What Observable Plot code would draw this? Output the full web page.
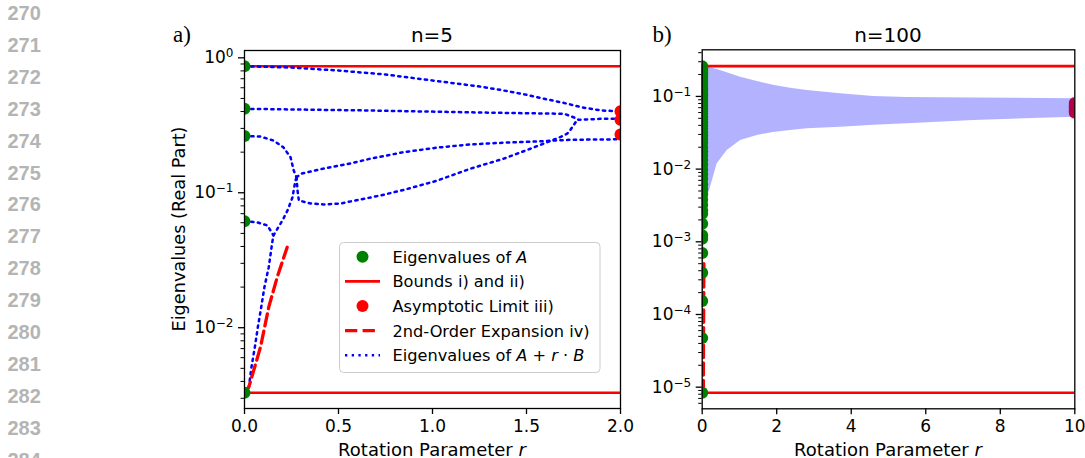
<!DOCTYPE html>
<html><head><meta charset="utf-8">
<script src="https://cdn.jsdelivr.net/npm/d3@7"></script>
<script src="https://cdn.jsdelivr.net/npm/@observablehq/plot@0.6"></script>
<style>
body{margin:0;background:#fff;}
#wrap{position:relative;width:1085px;height:458px;overflow:hidden;}
#wrap svg{overflow:visible;}
.pane{position:absolute;top:0;}
</style></head><body>
<div id="wrap">
  <svg id="lines" class="pane" style="left:0" width="60" height="458"></svg>
  <div id="left" class="pane" style="left:0"></div>
  <div id="right" class="pane" style="left:640px"></div>
</div>
<script>
// ---------- page line numbers ----------
const lineNumbers = [270,271,272,273,274,275,276,277,278,279,280,281,282,283,284];

// ---------- panel a) n = 5 ----------
const xTicksA = [0, 0.5, 1, 1.5, 2];
const xTickLabelsA = ["0.0", "0.5", "1.0", "1.5", "2.0"];
const yTicksA = [0.01, 0.1, 1];
const yTickLabelsA = ["10^−2", "10^−1", "10^0"];
const eigenA5 = [0.867, 0.419, 0.263, 0.0616, 0.0033];
const boundsA5 = [0.867, 0.0033];
const limitsA5 = [0.402, 0.347, 0.270];
const expansionA5 = [[0, 0.0033], [0.023, 0.00363], [0.085, 0.00718], [0.129, 0.0142], [0.174, 0.0237], [0.227, 0.0395]];
// real parts of eigenvalues of A + r·B (branches)
const branchTop = [[0, 0.867], [0.25, 0.847], [0.5, 0.805], [0.75, 0.752], [1.0, 0.679], [1.25, 0.613], [1.36, 0.579], [1.5, 0.532], [1.6, 0.495], [1.7, 0.463], [1.8, 0.428], [1.9, 0.407], [2.0, 0.402]];
const branchFlat = [[0, 0.419], [0.67, 0.407], [1.36, 0.391], [1.7, 0.385], [1.75, 0.363], [1.777, 0.347], [1.89, 0.353], [2.0, 0.353]];
const branchFromMid = [[0, 0.263], [0.085, 0.261], [0.154, 0.244], [0.207, 0.217], [0.245, 0.183], [0.262, 0.146], [0.277, 0.130]];
const branchUpper = [[0.277, 0.130], [0.298, 0.138], [0.42, 0.151], [0.564, 0.165], [0.67, 0.179], [0.847, 0.200], [1.025, 0.216], [1.202, 0.228], [1.379, 0.235], [1.557, 0.240], [1.734, 0.247], [2.0, 0.249]];
const branchLower = [[0.277, 0.130], [0.282, 0.104], [0.289, 0.0877], [0.351, 0.0833], [0.42, 0.0819], [0.511, 0.0833], [0.617, 0.0892], [0.723, 0.0955], [0.847, 0.105], [1.025, 0.123], [1.202, 0.151], [1.379, 0.179], [1.521, 0.212], [1.61, 0.237], [1.67, 0.255], [1.716, 0.274], [1.734, 0.293], [1.761, 0.333], [1.777, 0.347]];
const branchLow = [[0, 0.0033], [0.023, 0.00363], [0.037, 0.0051], [0.055, 0.00718], [0.071, 0.0101], [0.089, 0.0142], [0.106, 0.0200], [0.129, 0.0281], [0.147, 0.0423], [0.154, 0.0483]];
const branchSmall = [[0, 0.0616], [0.069, 0.0603], [0.122, 0.0573], [0.154, 0.0483]];
const branchPair = [[0.154, 0.0483], [0.202, 0.0624], [0.229, 0.074], [0.255, 0.0923], [0.271, 0.1233], [0.277, 0.130]];

// ---------- panel b) n = 100 ----------
const xTicksB = [0, 2, 4, 6, 8, 10];
const xTickLabelsB = ["0", "2", "4", "6", "8", "10"];
const yTicksB = [1e-5, 1e-4, 1e-3, 1e-2, 1e-1];
const yTickLabelsB = ["10^−5", "10^−4", "10^−3", "10^−2", "10^−1"];
const eigenA100 = [0.261, 0.245, 0.23, 0.215, 0.2, 0.187, 0.174, 0.162, 0.15, 0.139, 0.129, 0.12, 0.111, 0.103, 0.095, 0.088, 0.081, 0.075, 0.069, 0.063, 0.058, 0.053, 0.048, 0.044, 0.040, 0.036, 0.032, 0.029, 0.026, 0.023, 0.020, 0.0175, 0.0153, 0.0133, 0.0115, 0.0099, 0.0085, 0.0073, 0.0062, 0.0053, 0.0045, 0.0038, 0.0032, 0.0027, 0.00244, 0.00177, 0.00123, 0.0011, 0.0007, 0.000376, 0.000153, 0.0000473, 0.0000084];
const boundsB = [0.261, 0.00000837];
const limitsB = [0.081, 0.077, 0.073, 0.070, 0.067, 0.064, 0.062, 0.0597];
const bandR    = [0, 0.02, 0.05, 0.089, 0.134, 0.223, 0.403, 0.671, 1.03, 1.48, 1.91, 2.37, 2.82, 3.71, 4.6, 5.5, 7.29, 10];
const bandLow  = [0.0000084, 0.0001, 0.001, 0.0030, 0.0040, 0.00565, 0.01186, 0.0181, 0.0248, 0.0291, 0.032, 0.0341, 0.036, 0.0378, 0.040, 0.0421, 0.0468, 0.0519];
const bandHigh = [0.261, 0.260, 0.258, 0.256, 0.253, 0.248, 0.235, 0.212, 0.184, 0.160, 0.142, 0.130, 0.121, 0.109, 0.100, 0.097, 0.095, 0.093];
const expansionB = [[0.03, 0.0000084], [0.035, 0.00004], [0.04, 0.00015], [0.045, 0.0005]];

// ---------- styles ----------
const FONT = "DejaVu Sans";
const pt = {x: d => d[0], y: d => d[1]};
const blueDots = {...pt, stroke: "#0000ff", strokeWidth: 2.5, strokeDasharray: "2.3 4.4", clip: true};
const redDash = {...pt, stroke: "#ff0000", strokeWidth: 3.3, strokeDasharray: "12.3 5.3", clip: true};

function axes(xTicks, xLabels, yTicks, yLabels, yDomain) {
  const minor = d3.scaleLog().domain(yDomain).ticks().filter(v => Math.abs(Math.log10(v) - Math.round(Math.log10(v))) > 1e-6);
  return [
    Plot.axisX({ticks: xTicks, tickFormat: d => xLabels[xTicks.indexOf(d)], tickSize: 6, tickPadding: 5, strokeWidth: 1.3, fontSize: 17, label: null}),
    Plot.axisY({ticks: yTicks, tickFormat: d => yLabels[yTicks.indexOf(d)], tickSize: 6, tickPadding: 5, strokeWidth: 1.3, fontSize: 17, label: null}),
    Plot.axisY({ticks: minor, tickFormat: () => "", tickSize: 3.5, strokeWidth: 1, label: null})
  ];
}

const domA = [0.00252, 1.133];
const left = Plot.plot({
  width: 640, height: 458,
  marginLeft: 244, marginRight: 20, marginTop: 50, marginBottom: 50,
  style: {fontFamily: FONT, fontSize: "17px", color: "black", background: "transparent", overflow: "visible"},
  x: {domain: [0, 2], label: null},
  y: {type: "log", domain: domA, label: null},
  marks: [
    ...axes(xTicksA, xTickLabelsA, yTicksA, yTickLabelsA, domA),
    Plot.ruleY(boundsA5, {stroke: "#ff0000", strokeWidth: 2.6}),
    ...[branchTop, branchFlat, branchFromMid, branchUpper, branchLower, branchLow, branchSmall, branchPair].map(b => Plot.line(b, blueDots)),
    Plot.line(expansionA5, redDash),
    Plot.dot(eigenA5, {x: () => 0, y: d => d, r: 6, fill: "#008000", clip: true}),
    Plot.dot(limitsA5, {x: () => 2, y: d => d, r: 6, fill: "#ff0000", clip: true}),
    Plot.frame({stroke: "black", strokeWidth: 1.3})
  ]
});
document.getElementById("left").appendChild(left);

const domB = [0.00000504, 0.438];
const band = bandR.map((r, i) => ({r, lo: bandLow[i], hi: bandHigh[i]}));
const right = Plot.plot({
  width: 445, height: 458,
  marginLeft: 61.7, marginRight: 10.7, marginTop: 49.3, marginBottom: 49.7,
  style: {fontFamily: FONT, fontSize: "17px", color: "black", background: "transparent", overflow: "visible"},
  x: {domain: [0, 10], label: null},
  y: {type: "log", domain: domB, label: null},
  marks: [
    ...axes(xTicksB, xTickLabelsB, yTicksB, yTickLabelsB, domB),
    Plot.ruleY(boundsB, {stroke: "#ff0000", strokeWidth: 2.6}),
    Plot.dot(limitsB, {x: () => 10, y: d => d, r: 6, fill: "#ff0000", clip: true}),
    Plot.areaY(band, {x: "r", y1: "lo", y2: "hi", fill: "#0000ff", fillOpacity: 0.3, clip: true}),
    Plot.line(expansionB, redDash),
    Plot.dot(eigenA100, {x: () => 0, y: d => d, r: 6, fill: "#008000", clip: true}),
    Plot.frame({stroke: "black", strokeWidth: 1.3})
  ]
});
document.getElementById("right").appendChild(right);

// ---------- superscript tick labels ----------
function sup(svg) {
  d3.select(svg).selectAll('g[aria-label="y-axis tick label"] text').each(function () {
    const m = (this.textContent || "").match(/^10\^(.+)$/);
    if (!m) return;
    const s = d3.select(this);
    s.text(null);
    s.append("tspan").text("10");
    s.append("tspan").attr("font-size", "12px").attr("dy", "-6").text(m[1]);
  });
}
sup(left); sup(right);

// ---------- annotations ----------
function txt(svg, x, y, parts, attrs = {}) {
  const t = d3.select(svg).append("text").attr("x", x).attr("y", y)
    .attr("font-family", FONT).attr("font-size", 17).attr("fill", "black").attr("text-anchor", "start");
  for (const [k, v] of Object.entries(attrs)) t.attr(k, v);
  for (const p of parts) {
    const sp = t.append("tspan").text(typeof p === "string" ? p : p.t);
    if (typeof p !== "string") sp.attr("font-style", "italic");
  }
  return t;
}
// left panel
txt(left, 173, 42, ["a)"], {"font-family": "Liberation Serif", "font-size": 23});
txt(left, 432, 41.7, ["n=5"], {"text-anchor": "middle", "font-size": 20});
txt(left, 432, 455.5, ["Rotation Parameter ", {t: "r"}], {"text-anchor": "middle", "font-size": 18});
txt(left, 0, 0, ["Eigenvalues (Real Part)"], {"text-anchor": "middle", "font-size": 17.7, transform: "translate(184.8,229) rotate(-90)"});
// right panel
txt(right, 12.5, 42, ["b)"], {"font-family": "Liberation Serif", "font-size": 23});
txt(right, 248, 41.7, ["n=100"], {"text-anchor": "middle", "font-size": 20});
txt(right, 248, 455.5, ["Rotation Parameter ", {t: "r"}], {"text-anchor": "middle", "font-size": 18});

// ---------- legend (inside panel a) ----------
const lg = d3.select(left).append("g");
lg.append("rect").attr("x", 339.5).attr("y", 242.5).attr("width", 260.5).attr("height", 130).attr("rx", 4)
  .attr("fill", "white").attr("fill-opacity", 0.8).attr("stroke", "#cccccc").attr("stroke-width", 1);
const legendRows = [
  {kind: "dot", color: "#008000", parts: ["Eigenvalues of ", {t: "A"}]},
  {kind: "line", color: "#ff0000", dash: null, w: 2.6, parts: ["Bounds i) and ii)"]},
  {kind: "dot", color: "#ff0000", parts: ["Asymptotic Limit iii)"]},
  {kind: "line", color: "#ff0000", dash: "12.3 5.3", w: 3.3, parts: ["2nd-Order Expansion iv)"]},
  {kind: "line", color: "#0000ff", dash: "2.3 4.4", w: 2.5, parts: ["Eigenvalues of ", {t: "A"}, " + ", {t: "r"}, " · ", {t: "B"}]}
];
legendRows.forEach((row, i) => {
  const cy = 256.7 + i * 24.65;
  if (row.kind === "dot") {
    lg.append("circle").attr("cx", 362.5).attr("cy", cy).attr("r", 6).attr("fill", row.color);
  } else {
    const l = lg.append("line").attr("x1", 345).attr("x2", 380).attr("y1", cy).attr("y2", cy)
      .attr("stroke", row.color).attr("stroke-width", row.w);
    if (row.dash) l.attr("stroke-dasharray", row.dash);
  }
  txt(lg.node(), 392.5, cy + 6, row.parts, {"font-size": 16.2});
});

// ---------- line numbers ----------
const ln = d3.select("#lines");
lineNumbers.forEach((n, i) => {
  ln.append("text").attr("x", 7.5).attr("y", 20 + i * 31.9).text(n)
    .attr("font-family", "Liberation Sans").attr("font-weight", "bold").attr("font-size", 20).attr("fill", "#b4b4b4");
});
</script>
</body></html>
